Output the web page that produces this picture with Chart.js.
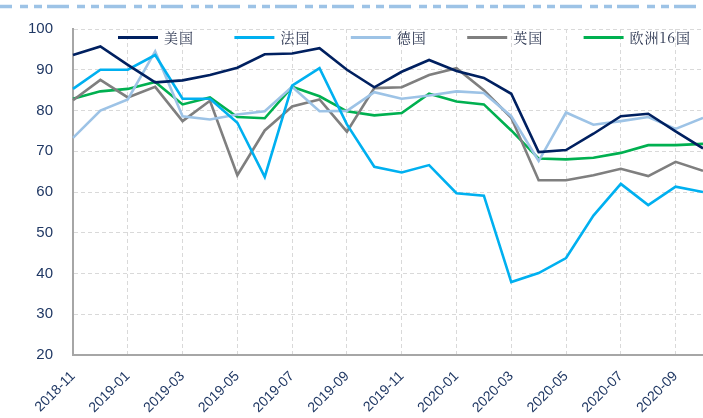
<!DOCTYPE html>
<html lang="zh-CN">
<head>
<meta charset="UTF-8">
<title>欧洲主要国家指数</title>
<script src="https://cdn.jsdelivr.net/npm/chart.js@4.4.1/dist/chart.umd.min.js"></script>
<style>
    html, body {
        margin: 0;
        padding: 0;
        background: #ffffff;
    }
    .chart-wrap {
        position: relative;
        width: 703px;
        height: 418px;
    }
</style>
</head>
<body>
<div class="chart-wrap">
    <canvas id="euroChart" width="703" height="418"></canvas>
</div>

<script>
// ======================================= Data ========================================== //
const months = [
    '2018-11', '2018-12', '2019-01', '2019-02', '2019-03', '2019-04',
    '2019-05', '2019-06', '2019-07', '2019-08', '2019-09', '2019-10',
    '2019-11', '2019-12', '2020-01', '2020-02', '2020-03', '2020-04',
    '2020-05', '2020-06', '2020-07', '2020-08', '2020-09', '2020-10'
];

const usValues = [93.6, 95.7, 91.2, 86.9, 87.4, 88.7, 90.5, 93.8, 94.0, 95.3, 90.0, 85.7,
                  89.5, 92.4, 89.7, 88.0, 84.1, 69.8, 70.3, 74.3, 78.6, 79.2, 74.9, 70.7];
const frValues = [85.3, 90.0, 90.0, 93.6, 82.9, 82.9, 77.0, 63.7, 86.1, 90.4, 76.6, 66.2,
                  64.8, 66.6, 59.7, 59.1, 37.9, 40.1, 43.8, 54.2, 62.0, 56.8, 61.3, 60.0];
const deValues = [73.3, 80.0, 82.7, 94.5, 78.6, 77.8, 79.0, 79.8, 85.8, 79.8, 79.9, 84.5,
                  82.9, 83.7, 84.7, 84.3, 78.6, 67.6, 79.5, 76.5, 77.4, 78.4, 75.5, 78.2];
const ukValues = [82.5, 87.5, 83.2, 85.8, 77.4, 82.4, 64.1, 75.1, 81.0, 82.7, 74.8, 85.5,
                  85.7, 88.7, 90.4, 85.0, 78.2, 62.9, 62.9, 64.1, 65.7, 63.9, 67.4, 65.2];
const eu16Values = [82.9, 84.7, 85.3, 87.0, 81.5, 83.2, 78.4, 78.1, 85.8, 83.5, 79.8, 78.8,
                    79.4, 84.1, 82.2, 81.5, 75.1, 68.2, 68.0, 68.4, 69.6, 71.5, 71.5, 71.8];

const yTicks = [20, 30, 40, 50, 60, 70, 80, 90, 100];

// ======================================= Plugins ========================================== //
// Dashed banner line across the top of the figure
const topBanner = {
    id: 'topBanner',
    beforeDraw(chart) {
        const ctx = chart.ctx;
        ctx.save();
        ctx.strokeStyle = '#9dc3e6';
        ctx.lineWidth = 3.5;
        ctx.setLineDash([22, 8, 8, 6, 8, 5]);
        ctx.lineDashOffset = 10;
        ctx.beginPath();
        ctx.moveTo(0, 6.5);
        ctx.lineTo(chart.width, 6.5);
        ctx.stroke();
        ctx.restore();
    }
};

// Legend drawn inside the plot, on top of the lines
const innerLegend = {
    id: 'innerLegend',
    afterDraw(chart) {
        const ctx = chart.ctx;
        const area = chart.chartArea;
        const y = 37.5;
        ctx.save();
        ctx.font = '14px "Noto Serif CJK SC", "Noto Sans CJK SC", serif';
        ctx.textBaseline = 'middle';
        ctx.textAlign = 'left';
        if ('letterSpacing' in ctx) ctx.letterSpacing = '1px';
        chart.data.datasets.forEach((ds, i) => {
            const x = area.left + 45 + i * 116.4;
            ctx.strokeStyle = ds.borderColor;
            ctx.lineWidth = 3;
            ctx.beginPath();
            ctx.moveTo(x, y);
            ctx.lineTo(x + 40, y);
            ctx.stroke();
            ctx.fillStyle = '#2b3550';
            ctx.fillText(ds.label, x + 46, y + 0.5);
        });
        ctx.restore();
    }
};

// ======================================= Chart ========================================== //
document.addEventListener('DOMContentLoaded', function() {
    const ctx = document.getElementById('euroChart').getContext('2d');

    const makeSeries = (label, data, color) => ({
        label: label,
        data: data,
        borderColor: color,
        backgroundColor: color,
        borderWidth: 2.6,
        pointRadius: 0,
        tension: 0,
        fill: false
    });

    new Chart(ctx, {
        type: 'line',
        data: {
            labels: months,
            datasets: [
                makeSeries('美国', usValues, '#002060'),
                makeSeries('法国', frValues, '#00b0f0'),
                makeSeries('德国', deValues, '#9dc3e6'),
                makeSeries('英国', ukValues, '#7f7f7f'),
                makeSeries('欧洲16国', eu16Values, '#00b050')
            ]
        },
        plugins: [topBanner, innerLegend],
        options: {
            responsive: false,
            animation: false,
            layout: {
                padding: { left: 0, right: 0, top: 16, bottom: 0 }
            },
            plugins: {
                legend: { display: false },
                tooltip: { enabled: false }
            },
            scales: {
                x: {
                    type: 'category',
                    offset: false,
                    afterFit: function(scale) {
                        scale.height = 63;
                        scale.paddingLeft = 0;
                        scale.paddingRight = 0;
                    },
                    border: {
                        display: true,
                        color: '#a6a6a6',
                        width: 2,
                        dash: [4, 3]
                    },
                    grid: {
                        color: '#d9d9d9',
                        lineWidth: 1,
                        drawTicks: false
                    },
                    ticks: {
                        autoSkip: false,
                        maxRotation: 45,
                        minRotation: 45,
                        padding: 13,
                        color: '#203864',
                        font: { family: 'Arial, "Liberation Sans", sans-serif', size: 14 },
                        callback: function(value, index) {
                            return index % 2 === 0 ? this.getLabelForValue(value) : null;
                        }
                    }
                },
                y: {
                    min: yTicks[0],
                    max: yTicks[yTicks.length - 1],
                    afterFit: function(scale) {
                        scale.width = 73;
                    },
                    afterBuildTicks: function(scale) {
                        scale.ticks = yTicks.map(v => ({ value: v }));
                    },
                    border: {
                        display: true,
                        color: '#a6a6a6',
                        width: 2,
                        dash: [4, 3]
                    },
                    grid: {
                        color: '#d9d9d9',
                        lineWidth: 1,
                        drawTicks: false
                    },
                    ticks: {
                        padding: 20,
                        color: '#203864',
                        font: { family: 'Arial, "Liberation Sans", sans-serif', size: 15 }
                    }
                }
            }
        }
    });
});
</script>
</body>
</html>
